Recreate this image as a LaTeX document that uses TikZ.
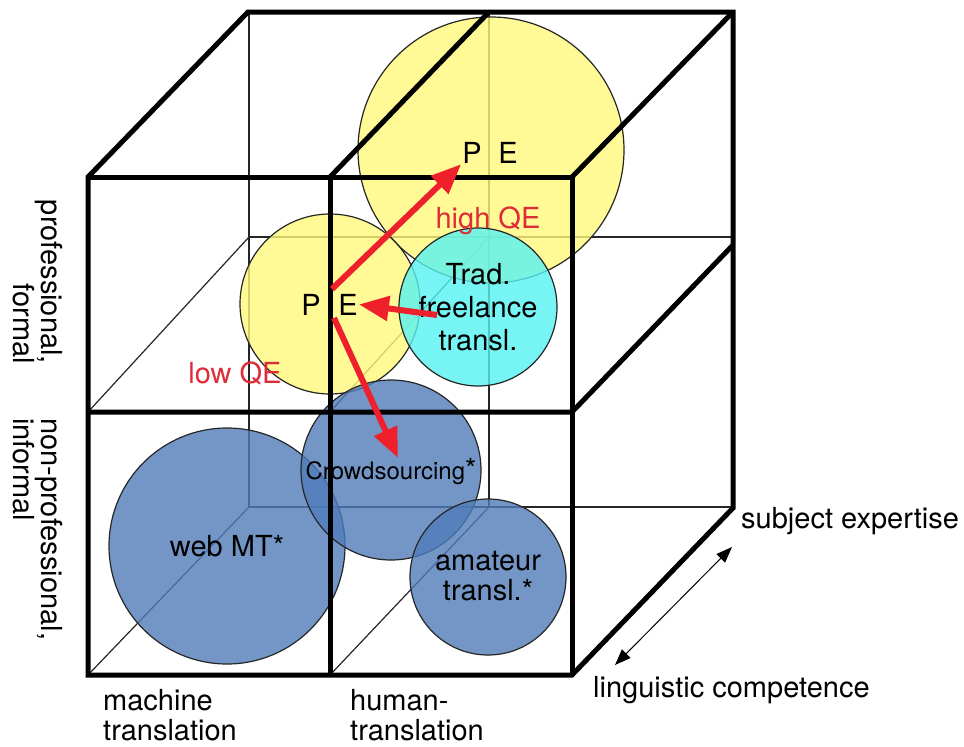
\documentclass[tikz,border=0pt]{standalone}
\usepackage{fontspec}
\setmainfont{TeX Gyre Heros}
\usetikzlibrary{arrows.meta}

\definecolor{peyellow}{RGB}{255,249,124}
\definecolor{tradcyan}{RGB}{86,242,242}
\definecolor{crowdblue}{RGB}{80,124,186}
\definecolor{qered}{RGB}{238,32,44}
\definecolor{qetext}{RGB}{222,44,56}

\begin{document}
\begin{tikzpicture}[x=1pt,y=-1pt,
  font=\fontsize{29}{30}\selectfont,
  >={Triangle[length=30pt,width=24pt]},
  thinedge/.style={line width=1.2pt,black!85},
  thickedge/.style={line width=5pt},
  bubble/.style={circle,draw=black!85,line width=1.2pt,fill opacity=0.8,inner sep=0pt},
  lbl/.style={inner sep=1pt,anchor=base},
  qe/.style={->,line width=6pt,qered}]
\fill[white] (0,0) rectangle (964,747);
\useasboundingbox (0,0) rectangle (964,747);

% hidden edges of the cube
\draw[thinedge] (249,12) -- (249,507) -- (733,507);
\draw[thinedge] (489,12) -- (489,507);
\draw[thinedge] (249,237) -- (733,237);
\draw[thinedge] (249,237) -- (88,412);
\draw[thinedge] (489,237) -- (330,412);
\draw[thinedge] (249,507) -- (88,675);
\draw[thinedge] (489,507) -- (330,675);

% bubbles
\node[bubble,fill=peyellow,minimum size=266pt] (hipe) at (491,150) {};
\node[bubble,fill=peyellow,minimum size=180pt] (lowpe) at (330,304) {};
\node[bubble,fill=tradcyan,minimum size=158pt] (trad) at (478,307) {};
\node[bubble,fill=crowdblue,minimum size=236pt] (webmt) at (227,546) {};
\node[bubble,fill=crowdblue,minimum size=180pt] (crowd) at (391,470) {};
\node[bubble,fill=crowdblue,minimum size=156pt] (amateur) at (488,577) {};

% visible edges of the cube
\draw[thickedge] (88,675) -- (88,177) -- (248,12) -- (733,12) -- (733,508) -- (572,675) -- cycle;
\draw[thickedge] (88,177) -- (572,177) -- (572,675);
\draw[thickedge] (572,177) -- (733,12);
\draw[thickedge] (330,177) -- (489,12);
\draw[thickedge] (330,177) -- (330,675);
\draw[thickedge] (88,412) -- (572,412) -- (733,245);

% bubble texts
\node[align=center,font=\fontsize{29}{33}\selectfont] (tradtxt) at (trad) {Trad.\\freelance\\transl.};
\node (crowdtxt) at (391,472) {\fontsize{24}{26}\selectfont Crowdsourcing\fontsize{29}{30}\selectfont*};
\node (webmttxt) at (webmt) {web MT*};
\node[align=center] (amateurtxt) at (488,576) {amateur\\transl.*};

% post-editing
\node[lbl] (lowP) at (311,315) {P};
\node[lbl] (lowE) at (348,315) {E};
\node[lbl] (hiP) at (472,163) {P};
\node[lbl] (hiE) at (508,163) {E};
\node[lbl,text=qetext] (hiqe) at (488,228) {high QE};
\node[lbl,text=qetext] (lowqe) at (235,383) {low QE};

\coordinate (fork) at (332,289);
\coordinate (forklow) at (334,318);
\coordinate (tradtail) at (437,315);
\coordinate (crowdtip) at (398,458);
\draw[qe] (fork) -- (hiP.south west);
\draw[qe] (tradtail) -- (lowE.east);
\draw[qe] (forklow) -- (crowdtip);

% axes
\node[rotate=-90,align=right,anchor=north east,inner sep=0pt,font=\fontsize{29}{25}\selectfont] (proflbl) at (63,364) {professional,\\formal};
\node[rotate=-90,align=left,anchor=north west,inner sep=0pt,font=\fontsize{29}{25}\selectfont] (nonproflbl) at (63,418) {non-professional,\\informal};
\node[align=left,anchor=north west,inner sep=0pt] (mtlbl) at (103,689) {machine\\translation};
\node[align=left,anchor=north west,inner sep=0pt] (htlbl) at (350,689) {human-\\translation};
\node[lbl,anchor=base west] (subj) at (740,528) {subject expertise};
\node[lbl,anchor=base west] (ling) at (592,697) {linguistic competence};

\coordinate (dimlo) at (615,665);
\coordinate (dimhi) at (732,547);
\draw[{Triangle[length=16pt,width=12pt]}-{Triangle[length=16pt,width=12pt]},line width=1pt] (dimlo) -- (dimhi);
\end{tikzpicture}
\end{document}
